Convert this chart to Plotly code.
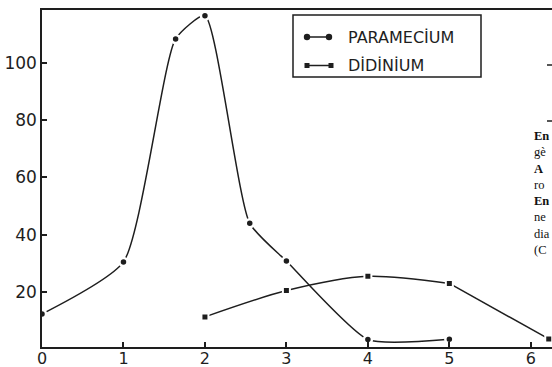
import plotly.graph_objects as go

# ---- data ----
series_names = ["PARAMECİUM", "DİDİNİUM"]
paramecium_x = [0, 1, 1.64, 2, 2.55, 3, 4, 5]
paramecium_y = [12.3, 30.5, 108.4, 116.5, 44.0, 30.8, 3.4, 3.5]
didinium_x = [2, 3, 4, 5, 6.22]
didinium_y = [11.3, 20.5, 25.5, 23.0, 3.6]
x_ticks = [0, 1, 2, 3, 4, 5, 6]
y_ticks = [20, 40, 60, 80, 100]
side_text = ["<b>En</b>", "gè", "<b>A</b>", "ro", "<b>En</b>", "ne", "dia", "(C"]

W, H = 552, 367
L, R, T, B = 42, 0, 10, 20
INK = "#1e1e1e"
FONT = "DejaVu Sans"


def px(x):
    return (x - L) / (W - L - R)


def py(y):
    return (H - B - y) / (H - T - B)


fig = go.Figure()
# Paramecium: smooth hand-drawn curve
fig.add_trace(go.Scatter(
    x=paramecium_x, y=paramecium_y, name=series_names[0],
    mode="lines+markers",
    line=dict(color=INK, width=1.5, shape="spline", smoothing=0.55),
    marker=dict(symbol="circle", size=8, color=INK, line=dict(color="white", width=2.5)),
    showlegend=False,
))
# Didinium: curved part then straight final segment
fig.add_trace(go.Scatter(
    x=didinium_x[:4], y=didinium_y[:4], name=series_names[1],
    mode="lines",
    line=dict(color=INK, width=1.5, shape="spline", smoothing=0.8),
    showlegend=False, hoverinfo="skip",
))
fig.add_trace(go.Scatter(
    x=didinium_x[3:], y=didinium_y[3:], name=series_names[1],
    mode="lines",
    line=dict(color=INK, width=1.5),
    showlegend=False, hoverinfo="skip",
))
fig.add_trace(go.Scatter(
    x=didinium_x, y=didinium_y, name=series_names[1],
    mode="markers",
    marker=dict(symbol="square", size=7, color=INK, line=dict(color="white", width=2)),
    showlegend=False, cliponaxis=False,
))

shapes = []
annotations = []
# custom legend box
shapes.append(dict(type="rect", xref="paper", yref="paper",
                   x0=px(293), x1=px(481), y0=py(77), y1=py(15),
                   line=dict(color=INK, width=1.5), fillcolor="white", layer="below"))
# paramecium sample
shapes.append(dict(type="line", xref="paper", yref="paper",
                   x0=px(307), x1=px(329), y0=py(37), y1=py(37),
                   line=dict(color=INK, width=1.5)))
for cx in (307, 329):
    shapes.append(dict(type="circle", xref="paper", yref="paper",
                       xsizemode="pixel", ysizemode="pixel",
                       xanchor=px(cx), yanchor=py(37),
                       x0=-3.2, x1=3.2, y0=-3.2, y1=3.2,
                       fillcolor=INK, line=dict(width=0)))
# didinium sample
shapes.append(dict(type="line", xref="paper", yref="paper",
                   x0=px(307), x1=px(331), y0=py(65.5), y1=py(65.5),
                   line=dict(color=INK, width=1.5)))
for cx in (307, 331):
    shapes.append(dict(type="rect", xref="paper", yref="paper",
                       xsizemode="pixel", ysizemode="pixel",
                       xanchor=px(cx), yanchor=py(65.5),
                       x0=-2.5, x1=2.5, y0=-2.5, y1=2.5,
                       fillcolor=INK, line=dict(width=0)))
for name, yy in zip(series_names, (37, 65.5)):
    annotations.append(dict(xref="paper", yref="paper", x=px(346), y=py(yy),
                            xanchor="left", yanchor="middle", showarrow=False,
                            text=name, font=dict(family=FONT, size=16, color=INK)))

# fragments of the neighbouring text column (one block)
annotations.append(dict(xref="paper", yref="paper", x=px(532), y=py(127),
                        xanchor="left", yanchor="top", showarrow=False, align="left",
                        text="<br>".join(side_text),
                        font=dict(family="Liberation Serif", size=12.5, color="#111")))
# small dashes at right edge
for yy in (65, 121):
    shapes.append(dict(type="line", xref="paper", yref="paper",
                       x0=px(547), x1=px(552), y0=py(yy), y1=py(yy),
                       line=dict(color=INK, width=1.5)))

fig.update_layout(
    width=W, height=H,
    margin=dict(l=L, r=R, t=T, b=B, pad=0),
    paper_bgcolor="white", plot_bgcolor="white",
    shapes=shapes, annotations=annotations,
    showlegend=False,
    font=dict(family=FONT, size=16, color=INK),
)
fig.update_xaxes(
    range=[0, 6.26], tickvals=x_ticks, ticktext=[str(v) for v in x_ticks],
    showline=True, linecolor=INK, linewidth=1.5, mirror=True,
    ticks="inside", ticklen=5, tickwidth=1.5, tickcolor=INK,
    showgrid=False, zeroline=False, automargin=False,
    ticklabelstandoff=-4,
    tickfont=dict(family=FONT, size=16, color=INK),
)
fig.update_yaxes(
    range=[0.79, 118.5], tickvals=y_ticks, ticktext=[str(v) for v in y_ticks],
    showline=True, linecolor=INK, linewidth=1.5,
    ticks="inside", ticklen=5, tickwidth=1.5, tickcolor=INK,
    showgrid=False, zeroline=False, automargin=False,
    tickfont=dict(family=FONT, size=17, color=INK),
)

fig.write_html(
    "out.html",
    config={"displayModeBar": False},
    post_script="document.body.style.margin='0';document.body.style.padding='0';document.body.style.overflow='hidden';",
)
